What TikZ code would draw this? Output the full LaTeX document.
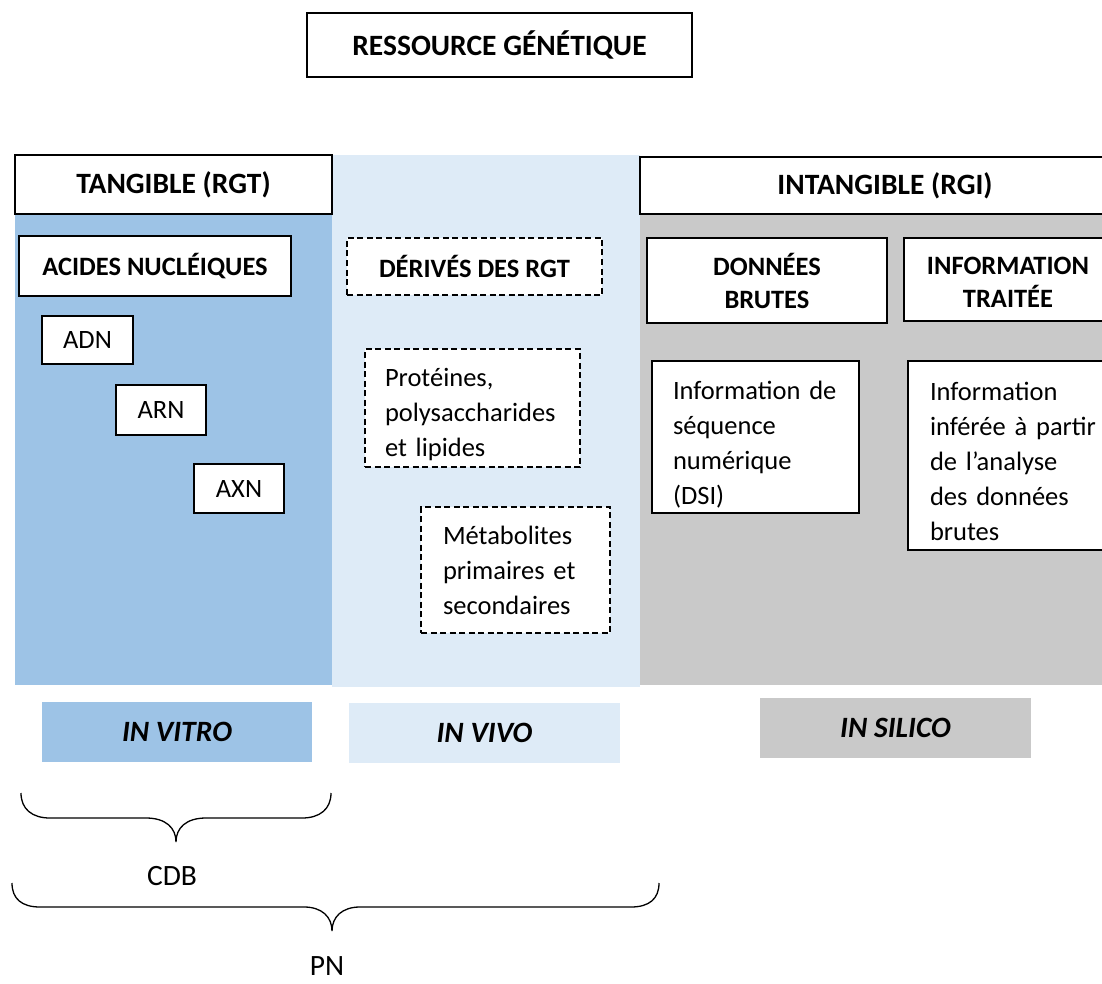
\documentclass[tikz,border=0pt]{standalone}
\usepackage{fontspec}
\setmainfont{Carlito}
\definecolor{vitro}{HTML}{9DC3E6}
\definecolor{vivo}{HTML}{DEEBF7}
\definecolor{silico}{HTML}{C9C9C9}
\newcommand{\lineup}[1]{\rule{0pt}{#1pt}}
\begin{document}
\begin{tikzpicture}[x=1pt,y=-1pt,
  every node/.style={font=\fontsize{26.5}{35}\selectfont},
  frame/.style={draw=black, line width=1.5pt, fill=white, inner sep=0pt, align=center},
  hdr/.style={frame, font=\fontsize{26.5}{33}\selectfont\bfseries},
  bighdr/.style={frame, font=\fontsize{29.5}{36}\selectfont\bfseries},
  plain/.style={frame},
  dashbox/.style={dash pattern=on 6pt off 3.5pt},
  textbox/.style={frame, align=left, inner ysep=0pt},
  tag/.style={inner sep=0pt, align=center, font=\fontsize{29.5}{36}\selectfont\bfseries\itshape},
  label/.style={inner sep=0pt, font=\fontsize{29.5}{36}\selectfont},
  bracepath/.style={draw=black, line width=1.3pt}]
\useasboundingbox (0,0) rectangle (1102,984);

% column backgrounds
\fill[vitro]  (15,155)  rectangle (332,685);
\fill[vivo]   (332,155) rectangle (640,687);
\fill[silico] (640,157) rectangle (1110,685);

% title
\node[bighdr, minimum width=385pt, minimum height=64pt] (res) at (499.5,45) {RESSOURCE GÉNÉTIQUE};

% column headers
\node[bighdr, minimum width=317pt, minimum height=59pt] (tang) at (173.5,184.5) {TANGIBLE (RGT)};
\node[bighdr, minimum width=490pt, minimum height=57pt] (intang) at (885,185.5) {INTANGIBLE (RGI)};

% tangible column
\node[hdr, minimum width=272pt, minimum height=60pt] (acides) at (155,266) {ACIDES NUCLÉIQUES};
\node[plain, minimum width=91pt, minimum height=48pt] (adn) at (87.5,340) {ADN};
\node[plain, minimum width=90pt, minimum height=50pt] (arn) at (161,410) {ARN};
\node[plain, minimum width=90pt, minimum height=49pt] (axn) at (239,488.5) {AXN};

% derived column
\node[hdr, dashbox, minimum width=255pt, minimum height=57pt] (derives) at (474.5,266.5) {DÉRIVÉS DES RGT};
\node[textbox, dashbox, inner xsep=20pt, text width=175pt, minimum height=118pt] (prot) at (472.5,408)
  {\lineup{31}Protéines,\\polysaccharides\\et lipides};
\node[textbox, dashbox, inner xsep=22pt, text width=145pt, minimum height=126pt] (meta) at (515.5,570)
  {Métabolites\\primaires et\\secondaires};

% intangible column
\node[hdr, minimum width=240pt, minimum height=85pt] (brutes) at (767,280.5) {DONNÉES\\BRUTES};
\node[hdr, minimum width=208pt, minimum height=83pt] (traitee) at (1008,279.5) {INFORMATION\vphantom{É}\\TRAITÉE};
\node[textbox, inner xsep=21pt, text width=165pt, minimum height=152pt] (dsi) at (755.5,437)
  {\lineup{34}Information de\\séquence\\numérique\\(DSI)};
\node[textbox, inner xsep=22pt, text width=171pt, minimum height=189pt] (inferee) at (1015.5,455.5)
  {\lineup{30}Information\\inférée à partir\\de l’analyse\\des données\\brutes};

% environments
\node[tag, fill=vitro, minimum width=270pt, minimum height=60pt] (invitro) at (177,732) {IN VITRO};
\node[tag, fill=vivo, minimum width=271pt, minimum height=60pt] (invivo) at (484.5,733) {IN VIVO};
\node[tag, fill=silico, minimum width=271pt, minimum height=60pt] (insilico) at (895.5,728) {IN SILICO};

% braces and their labels
\draw[bracepath] (21,793) .. controls (21,809) and (32,818) .. (50,818) -- (146,818)
  .. controls (166,818) and (176,828) .. (176,842)
  .. controls (176,828) and (186,818) .. (206,818) -- (302,818)
  .. controls (320,818) and (331,809) .. (331,793);
\node[label] (cdb) at (172,876) {CDB};

\draw[bracepath] (12,883) .. controls (12,899) and (22,907) .. (40,907) -- (304,907)
  .. controls (322,907) and (332,917) .. (332,931)
  .. controls (332,917) and (342,907) .. (360,907) -- (631,907)
  .. controls (649,907) and (659,899) .. (659,883);
\node[label] (pn) at (327,966) {PN};
\end{tikzpicture}
\end{document}
